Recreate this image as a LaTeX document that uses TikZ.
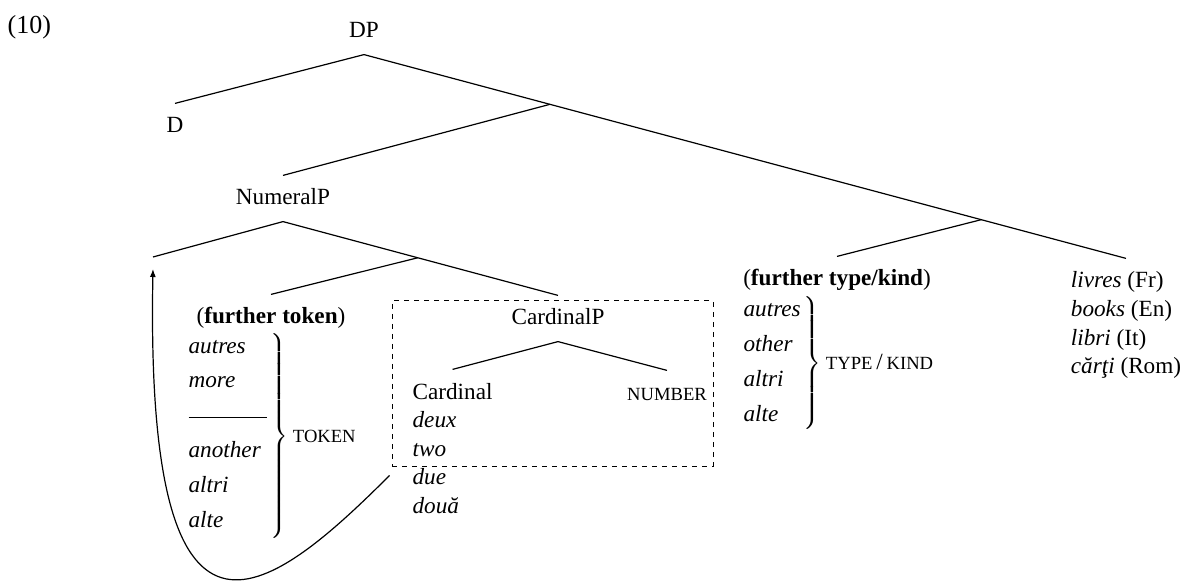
\documentclass[tikz,border=0pt]{standalone}
\usepackage{fontspec}
\setmainfont{Liberation Serif}
\usepackage{tikz}
\usetikzlibrary{arrows.meta, positioning, calc}

\newcommand{\fakesc}[1]{{\fontsize{9.3pt}{11pt}\selectfont #1}}
\newcommand{\bracebox}[1]{{\delimitershortfall=0pt$\left.\vcenter{\hbox{\rule{0pt}{#1}}}\right\}$}}

\begin{document}
\begin{tikzpicture}[x=0.5pt, y=-0.5pt, line width=0.6pt,
    every node/.style={font=\fontsize{11.6pt}{14.3pt}\selectfont},
    lbl/.style={anchor=base, inner xsep=0pt, inner ysep=4.5pt, text height=10pt, text depth=3.5pt},
    blk/.style={anchor=base, inner xsep=0pt, inner ysep=4.5pt, text height=10pt},
    scl/.style={inner sep=0pt, text height=6.2pt, text depth=0pt}]
    \useasboundingbox (0,0) rectangle (1187,582);
            \node[anchor=base west, inner sep=0pt, font=\fontsize{13pt}{15pt}\selectfont] (exno) at (7,34) {(10)};
            % upper part of the tree
            \node[lbl] (dp) at (364,38) {DP};
            \node[lbl] (d) at (175,133) {D};
            \node[lbl] (numeralp) at (283,205) {NumeralP};
            \node[blk] (livres) at (1126,288) {\begin{tabular}[t]{@{}l@{}}
                \textit{livres} (Fr)\\ \textit{books} (En)\\ \textit{libri} (It)\\ \textit{cărţi} (Rom)
            \end{tabular}};
            \coordinate (j1) at ($(dp.south)!0.244!(livres.north)$);
            \coordinate (j2) at ($(dp.south)!0.81!(livres.north)$);
            \draw (dp.south) -- (d.north);
            \draw (dp.south) -- (livres.north);
            \draw (j1) -- (numeralp.north);
            % type/kind
            \node[lbl] (furthertype) at (837,286) {(\textbf{further type/kind})};
            \draw (j2) -- (furthertype.north);
            \node[blk, anchor=base west] (typelist) at (743,317) {\renewcommand{\arraystretch}{1.22}\begin{tabular}[t]{@{}l@{}}
                \textit{autres}\\ \textit{other}\\ \textit{altri}\\ \textit{alte}
            \end{tabular}};
            \node[anchor=west, inner sep=0pt] (typebrace) at (800,363) {\bracebox{65pt}};
            \node[scl, right=2pt of typebrace] (typekind) {\fakesc{TYPE}\,/\,\fakesc{KIND}};
            % NumeralP
            \node[lbl] (cardinalp) at (558,325) {CardinalP};
            \node[lbl] (furthertoken) at (271,324) {(\textbf{further token})};
            \coordinate (numl) at (153,257);
            \coordinate (arrowend) at (153,269);
            \coordinate (j3) at ($(numeralp.south)!0.49!(cardinalp.north)$);
            \draw (numeralp.south) -- (numl);
            \draw (numeralp.south) -- (cardinalp.north);
            \draw (j3) -- (furthertoken.north);
            \node[blk, anchor=base west] (tokenlist) at (188,353) {\renewcommand{\arraystretch}{1.22}\begin{tabular}[t]{@{}l@{}}
                \textit{autres}\\ \textit{more}\\ \rule[2.5pt]{39pt}{0.4pt}\\ \textit{another}\\ \textit{altri}\\ \textit{alte}
            \end{tabular}};
            \node[anchor=west, inner sep=0pt] (tokbrace) at (267,436) {\bracebox{101pt}};
            \node[scl, right=2pt of tokbrace] (token) {\fakesc{TOKEN}};
            % CardinalP
            \node[blk, anchor=base west] (cardinal) at (412,399) {\begin{tabular}[t]{@{}l@{}}
                Cardinal\\ \textit{deux}\\ \textit{two}\\ \textit{due}\\ \textit{două}
            \end{tabular}};
            \node[lbl] (number) at (667,400) {\fakesc{NUMBER}};
            \draw (cardinalp.south) -- (cardinal.north);
            \draw (cardinalp.south) -- (number.north);
            \node[draw, dash pattern=on 2.5pt off 2.5pt, line width=0.5pt, inner sep=0pt,
                  minimum width=160.5pt, minimum height=82.5pt] (cardbox) at (552.5,383.5) {};
            \draw[-{Latex[length=4pt, width=3pt]}] ([shift={(-1pt,-4.5pt)}]cardbox.south west)
                .. controls (265,600) and (145,690) .. (arrowend);
        \end{tikzpicture}
\end{document}
